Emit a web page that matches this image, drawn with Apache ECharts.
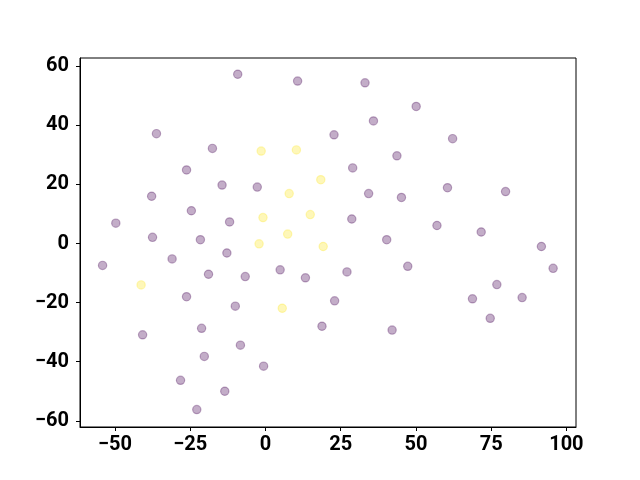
<!DOCTYPE html>
<html>
<head>
<meta charset="utf-8">
<title>scatter</title>
<script src="https://cdn.jsdelivr.net/npm/echarts@6/dist/echarts.min.js"></script>
<style>
  html, body { margin: 0; padding: 0; background: #fff; }
  #chart { width: 640px; height: 480px; }
</style>
</head>
<body>
<div id="chart"></div>
<script>
// purple group (viridis low end)
const purpleX = [-9.2, 10.7, 33.1, 50.1, 35.9, 22.8, -36.2, 62.2, -17.6, 43.7,
  -26.2, 29.0, -14.4, -2.7, 60.5, 79.8, -37.8, 34.3, 45.2, -24.6,
  -49.7, -11.9, 28.7, 57.0, 71.7, -37.5, -21.6, 40.3, 91.7, -31.0,
  -12.8, -54.1, 47.3, 95.6, 4.9, -18.9, -6.7, 13.3, 27.1, 76.9,
  -26.2, 68.8, 85.3, 23.0, -10.0, 74.7, -21.2, 18.8, 42.1, -40.8,
  -8.3, -20.3, -0.6, -28.2, -13.5, -22.8]
const purpleY = [57.3, 55.0, 54.4, 46.4, 41.5, 36.8, 37.2, 35.5, 32.2, 29.7,
  24.9, 25.6, 19.8, 19.1, 18.9, 17.6, 16.0, 16.9, 15.6, 11.1,
  6.9, 7.3, 8.3, 6.1, 3.9, 2.1, 1.3, 1.3, -1.0, -5.2,
  -3.2, -7.4, -7.7, -8.4, -8.9, -10.4, -11.2, -11.6, -9.6, -13.9,
  -18.0, -18.7, -18.3, -19.4, -21.2, -25.3, -28.7, -28.0, -29.3, -30.9,
  -34.4, -38.2, -41.5, -46.3, -50.0, -56.2]

// yellow group (viridis high end)
const yellowX = [-1.4, 10.3, 18.4, 7.9, 14.9, -0.8, 7.4, -2.1, 19.2, -41.3, 5.6]
const yellowY = [31.3, 31.7, 21.6, 16.9, 9.8, 8.8, 3.2, -0.1, -1.0, -14.0, -21.9]

const xTicks = [-50, -25, 0, 25, 50, 75, 100]
const yTicks = [-60, -40, -20, 0, 20, 40, 60]

const zip = (xs, ys) => xs.map((x, i) => [x, ys[i]])
const minus = (v) => String(v).replace('-', '\u2212')

const labelStyle = {
  color: '#000',
  fontFamily: 'Roboto',
  fontWeight: 'bold',
  fontSize: 20,
  formatter: minus
}

const chart = echarts.init(document.getElementById('chart'))
chart.setOption({
  animation: false,
  grid: {
    left: 80, right: 64, top: 58, bottom: 53,
    show: true,
    borderColor: '#000',
    borderWidth: 1,
    backgroundColor: 'transparent'
  },
  xAxis: {
    type: 'value',
    min: -61.6,
    max: 103.2,
    splitLine: { show: false },
    axisLine: { show: true, onZero: false, lineStyle: { color: '#000', width: 1 } },
    axisTick: { show: true, length: 4, lineStyle: { color: '#000' }, customValues: xTicks },
    axisLabel: Object.assign({ margin: 8, customValues: xTicks }, labelStyle)
  },
  yAxis: {
    type: 'value',
    min: -62.1,
    max: 62.8,
    splitLine: { show: false },
    axisLine: { show: true, onZero: false, lineStyle: { color: '#000', width: 1 } },
    axisTick: { show: true, length: 4, lineStyle: { color: '#000' }, customValues: yTicks },
    axisLabel: Object.assign({ margin: 11, customValues: yTicks }, labelStyle)
  },
  series: [
    {
      type: 'scatter',
      data: zip(purpleX, purpleY),
      symbolSize: 8.3,
      itemStyle: {
        color: 'rgba(68, 1, 84, 0.4)',
        borderColor: 'rgba(68, 1, 84, 0.4)',
        borderWidth: 1.2
      }
    },
    {
      type: 'scatter',
      data: zip(yellowX, yellowY),
      symbolSize: 8.3,
      itemStyle: {
        color: 'rgba(253, 231, 37, 0.4)',
        borderColor: 'rgba(253, 231, 37, 0.4)',
        borderWidth: 1.2
      }
    }
  ]
})
</script>
</body>
</html>
